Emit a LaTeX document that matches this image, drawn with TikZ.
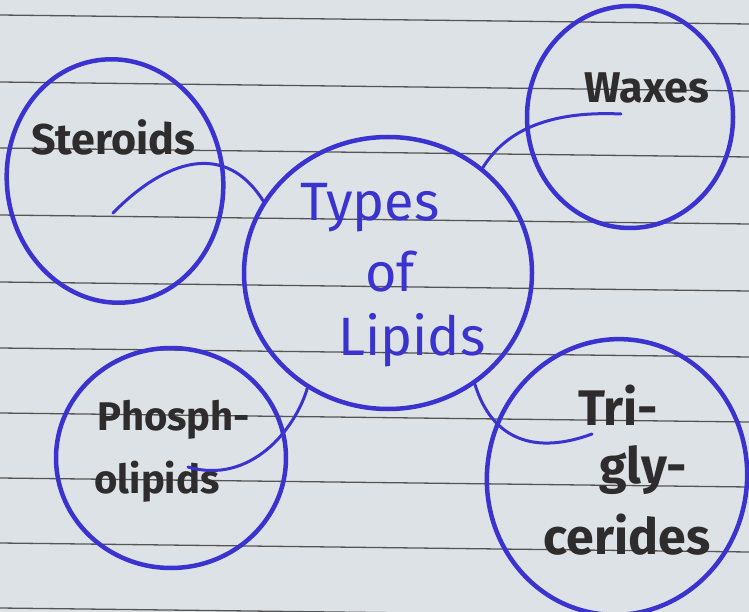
\documentclass[tikz,border=0pt]{standalone}
\usepackage{fontspec}
\setmainfont{Fira Sans}
\usetikzlibrary{shapes.geometric}
\definecolor{paper}{HTML}{DDE2E6}
\definecolor{ink}{HTML}{3B33CF}
\definecolor{pencil}{HTML}{2E2C2C}
\definecolor{rule}{HTML}{555555}
\tikzset{
  bubble/.style={ellipse, draw=ink, line width=4.5pt, inner sep=0pt},
  conn/.style={draw=ink, line width=3pt, line cap=round},
  blk/.style={text=pencil, font=\bfseries\fontsize{43}{45}\selectfont, inner sep=0pt},
  blkS/.style={blk, font=\bfseries\fontsize{40}{42}\selectfont},
  blkT/.style={blk, font=\bfseries\fontsize{50}{52}\selectfont},
  blu/.style={text=ink, font=\fontsize{54}{56}\selectfont, inner sep=0pt},
  ruled/.style={draw=rule, line width=1.3pt}
}
\begin{document}
\begin{tikzpicture}[x=1pt,y=-1pt]
\useasboundingbox (0,0) rectangle (749,612);
\fill[paper] (0,0) rectangle (749,612);
% ruled paper
\foreach \yy in {15,82,148,215,282,348,413,478,543,608}
  \draw[ruled] (0,\yy) -- (749,\yy+9);
% bubbles
\node[bubble, minimum width=288pt, minimum height=272pt] (center) at (388,273) {};
\node[bubble, minimum width=216pt, minimum height=244pt, rotate=8] (ster) at (115,181) {};
\node[bubble, minimum width=206pt, minimum height=222pt] (wax) at (630,117) {};
\node[bubble, minimum width=230pt, minimum height=220pt] (phos) at (171,458) {};
\node[bubble, minimum width=260pt, minimum height=276pt, rotate=-8] (tri) at (617,477) {};
% labels
\node[blu] (tTypes) at (370,208) {Types};
\node[blu] (tOf) at (390,272) {of};
\node[blu] (tLip) at (412,340) {Lipids};
\node[blk] (tSter) at (113,137) {Steroids};
\node[blk] (tWax) at (647,88) {Waxes};
\node[blkS] (tPhos1) at (174,420) {Phosph-};
\node[blkS] (tPhos2) at (157,482) {olipids};
\node[blkT] (tTri1) at (618,405) {Tri-};
\node[blkT] (tTri2) at (643,470) {gly-};
\node[blkT] (tTri3) at (627,535) {cerides};
% free ends of connectors
\coordinate (sI) at (113,213);
\coordinate (wI) at (621,114);
\coordinate (pI) at (188,467);
\coordinate (tI) at (592,434);
% connectors
\draw[conn] (sI) .. controls (165,160) and (225,140) .. (center.150);
\draw[conn] (center.48) .. controls (500,140) and (535,110) .. (wI);
\draw[conn] (center.235) .. controls (295,430) and (250,485) .. (pI);
\draw[conn] (center.308) .. controls (492,440) and (535,455) .. (tI);
\end{tikzpicture}
\end{document}
